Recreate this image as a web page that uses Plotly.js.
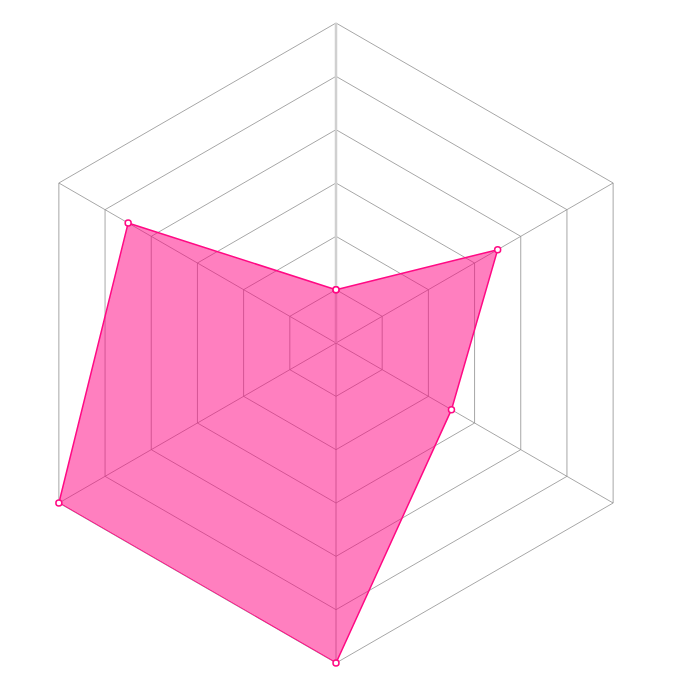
<!DOCTYPE html>
<html>
<head>
<meta charset="utf-8">
<script src="https://cdn.plot.ly/plotly-3.0.1.min.js"></script>
<style>html,body{margin:0;padding:0;background:#fff;}#chart{width:688px;height:688px;}</style>
</head>
<body>
<div id="chart"></div>
<script>
const categories = ['A', 'B', 'C', 'D', 'E', 'F'];
const values = [1, 3.5, 2.5, 6, 6, 4.5];

const trace = {
  type: 'scatterpolar',
  r: values.concat([values[0]]),
  theta: categories.concat([categories[0]]),
  mode: 'lines+markers',
  fill: 'toself',
  fillcolor: 'rgba(255,0,128,0.5)',
  line: {color: '#ff0a84', width: 1.5},
  marker: {size: 6, color: '#ffffff', line: {color: '#ff0a84', width: 1.5}},
  hoverinfo: 'none'
};

const layout = {
  width: 688, height: 688,
  margin: {l: 16, r: 32, t: 23, b: 25},
  paper_bgcolor: '#ffffff',
  showlegend: false,
  polar: {
    bgcolor: '#ffffff',
    gridshape: 'linear',
    radialaxis: {
      range: [0, 6], dtick: 1, showticklabels: false, ticks: '',
      showline: true, linecolor: '#d0d0d0', linewidth: 2.5, angle: 90,
      layer: 'below traces',
      gridcolor: '#909090', gridwidth: 0.8
    },
    angularaxis: {
      rotation: 90, direction: 'clockwise', showticklabels: false, ticks: '',
      showline: true, linecolor: '#909090', linewidth: 0.8,
      layer: 'below traces',
      gridcolor: '#909090', gridwidth: 0.8
    }
  }
};

Plotly.newPlot('chart', [trace], layout, {displayModeBar: false, staticPlot: true});
</script>
</body>
</html>
